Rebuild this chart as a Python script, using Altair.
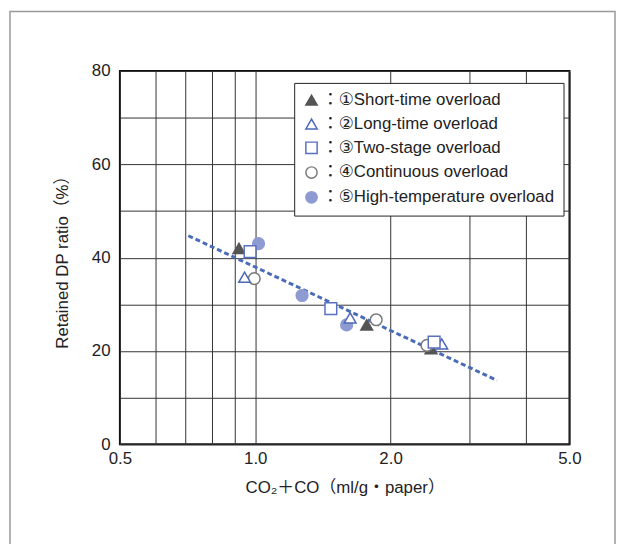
import altair as alt
import pandas as pd

# ---- data ----
series = [
    "：①Short-time overload",
    "：②Long-time overload",
    "：③Two-stage overload",
    "：④Continuous overload",
    "：⑤High-temperature overload",
]
x1 = [0.92, 1.77, 2.46]
y1 = [42.0, 25.6, 20.5]
x2 = [0.947, 1.626, 2.60]
y2 = [35.8, 27.1, 21.5]
x3 = [0.974, 1.473, 2.50]
y3 = [41.3, 29.1, 21.9]
x4 = [0.995, 1.858, 2.41]
y4 = [35.5, 26.7, 21.2]
x5 = [1.017, 1.271, 1.597]
y5 = [43.0, 31.9, 25.6]

fit_x = [0.71, 3.45]
fit_y = [44.7, 13.7]

x_grid = [0.5, 0.6, 0.7, 0.8, 0.9, 1, 2, 3, 4, 5]
x_labels = [0.5, 1, 2, 5]
y_grid = [0, 10, 20, 30, 40, 50, 60, 70, 80]

shapes = ["triangle-up", "triangle-up", "square", "circle", "circle"]
fills = ["#555555", "#ffffff", "#ffffff", "#ffffff", "#8e9bd3"]
strokes = ["#555555", "#4a68b8", "#5a70c0", "#7a7a7a", "#8e9bd3"]

all_x = [x1, x2, x3, x4, x5]
all_y = [y1, y2, y3, y4, y5]
draw_order = [4, 0, 3, 1, 2]
rows = []
for i in draw_order:
    for xv, yv in zip(all_x[i], all_y[i]):
        rows.append({"x": xv, "y": yv, "series": series[i]})
pts = pd.DataFrame(rows)
fit = pd.DataFrame({"x": fit_x, "y": fit_y})

FONT = "Liberation Sans, Arial, DejaVu Sans, Noto Sans CJK JP"

xscale = alt.Scale(type="log", domain=[0.5, 5], nice=False)
yscale = alt.Scale(domain=[0, 80], nice=False)

label_list = "[" + ",".join(str(v) for v in x_labels) + "]"
xaxis = alt.Axis(
    values=x_grid,
    labelExpr=f"indexof({label_list}, datum.value) >= 0 ? format(datum.value, '.1f') : ''",
    title="CO₂＋CO（ml/g・paper）",
    grid=True, ticks=False, domain=False, labelOverlap=False, labelFlush=False,
    labelPadding=6, titlePadding=14,
)
yaxis = alt.Axis(
    values=y_grid,
    labelExpr="datum.value % 20 == 0 ? datum.label : ''",
    title="Retained DP ratio（%）",
    grid=True, ticks=False, domain=False, labelOverlap=False, labelFlush=False,
    labelPadding=10, titlePadding=20,
)

legend = alt.Legend(
    title=None, orient="none", legendX=176, legendY=12,
    padding=9, strokeColor="#222222", fillColor="#ffffff",
    labelFontSize=17, labelFont=FONT, labelColor="#222222", labelLimit=0,
    symbolSize=130, symbolStrokeWidth=1.5, rowPadding=6, labelOffset=2,
)

border = alt.Chart(pd.DataFrame({"a": [0]})).mark_rect(
    filled=False, stroke="#999999", strokeWidth=1.5, clip=False
).encode(
    x=alt.value(-111), x2=alt.value(500), y=alt.value(-60), y2=alt.value(480)
)

line = alt.Chart(fit).mark_line(
    color="#4a6cb8", strokeWidth=3, strokeDash=[5, 3]
).encode(
    x=alt.X("x:Q", scale=xscale, axis=xaxis),
    y=alt.Y("y:Q", scale=yscale, axis=yaxis),
)

points = alt.Chart(pts).mark_point(size=140, strokeWidth=1.5, opacity=1).encode(
    x=alt.X("x:Q", scale=xscale, axis=xaxis),
    y=alt.Y("y:Q", scale=yscale, axis=yaxis),
    shape=alt.Shape("series:N", scale=alt.Scale(domain=series, range=shapes), legend=legend),
    fill=alt.Fill("series:N", scale=alt.Scale(domain=series, range=fills), legend=legend),
    stroke=alt.Stroke("series:N", scale=alt.Scale(domain=series, range=strokes), legend=legend),
)

chart = alt.layer(border, line, points).properties(
    width=454, height=377,
    autosize=alt.AutoSizeParams(type="none"),
    padding={"left": 113, "top": 61, "right": 48, "bottom": 98},
).configure_view(
    stroke="#111111", strokeWidth=2
).configure_axis(
    gridColor="#333333", gridWidth=1, gridOpacity=1,
    labelFont=FONT, labelFontSize=17, labelColor="#222222",
    titleFont=FONT, titleFontSize=17, titleColor="#222222", titleFontWeight="normal",
)

chart.save("out.html", embed_options={"renderer": "svg", "actions": False})
